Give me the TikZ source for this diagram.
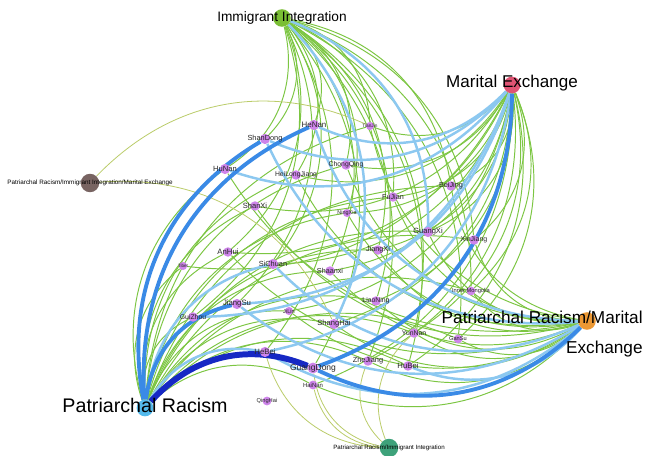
\documentclass[tikz,border=0pt]{standalone}
\usepackage{fontspec}
\setmainfont{Liberation Sans}
\usetikzlibrary{backgrounds}
\definecolor{ii-green}{RGB}{122,190,52}
\definecolor{me-pink}{RGB}{224,84,116}
\definecolor{prme-orange}{RGB}{236,152,52}
\definecolor{pr-blue}{RGB}{84,186,236}
\definecolor{prii-teal}{RGB}{62,162,122}
\definecolor{all-brown}{RGB}{120,100,98}
\definecolor{prov-violet}{RGB}{206,132,234}
\definecolor{edge-green}{RGB}{124,198,66}
\definecolor{edge-light}{RGB}{140,200,240}
\definecolor{edge-mid}{RGB}{58,138,230}
\definecolor{edge-navy}{RGB}{22,40,196}
\definecolor{edge-olive}{RGB}{186,204,104}

\begin{document}
\begin{tikzpicture}[
    x=0.02cm, y=-0.02cm,
    hub/.style={circle, inner sep=0pt, minimum size=10pt},
    prov/.style={circle, fill=prov-violet, inner sep=0pt},
    plab/.style={inner sep=0pt, text=black!85},
    hublab/.style={inner sep=0pt, text=black},
    gedge/.style={draw=edge-green, line width=0.55pt},
    oedge/.style={draw=edge-olive, line width=0.45pt},
    ledge/.style={draw=edge-light, line width=1.4pt},
    medge/.style={draw=edge-mid, line width=2.2pt},
    nedge/.style={draw=edge-navy, line width=3.4pt},
    curve/.style={bend left=35}
]
\useasboundingbox (0,0) rectangle (647,456);

\node[hub, fill=ii-green] (ii) at (282,18) {};
\node[hub, fill=me-pink, minimum size=9.5pt] (me) at (512,85) {};
\node[hub, fill=prme-orange] (prme) at (587,321) {};
\node[hub, fill=pr-blue, minimum size=9.5pt] (pr) at (145,408) {};
\node[hub, fill=prii-teal, minimum size=10.5pt] (prii) at (389,448) {};
\node[hub, fill=all-brown, minimum size=10.5pt] (prmeii) at (90,183) {};

\foreach \id/\px/\py/\txt/\fs/\d in {
    henan/314/125/HeNan/4.5/5.8, tianjin/370/126/TianJin/2.7/4.6,
    shandong/265/139/ShanDong/4.2/5.8, hunan/225/169/HuNan/4.3/5.8,
    chongqing/346/165/ChongQing/3.9/5.4, heilongjiang/296/175/HeiLongJiang/3.9/5.4,
    fujian/393/197/FuJian/4.1/5.4, shanxi/255/206/ShanXi/4.3/5.4,
    ningxia/347/213/NingXia/3.1/4.6, beijing/451/186/BeiJing/4.15/5.4,
    guangxi/428/232/GuangXi/4.3/5.8, xinjiang/474/240/XinJiang/3.95/5.4,
    jiangxi/378/250/JiangXi/4.15/5.4, anhui/228/252/AnHui/4.4/5.4,
    sichuan/273/264/SiChuan/4.2/5.8, tibet/183/266/Tibet/2.6/4.6,
    shaanxi/330/271/Shaanxi/4.1/5.4, liaoning/376/301/LiaoNing/3.9/5.4,
    innermongolia/471/291/Inner Mongolia/3.25/5, jiangsu/237/304/JiangSu/4.4/5.8,
    jilin/289/311/JiLin/3.2/4.6, guizhou/193/317/GuiZhou/3.9/5.4,
    shanghai/334/324/ShangHai/4.3/5.8, yunnan/414/333/YunNan/3.9/5.4,
    gansu/458/339/GanSu/3.2/5, hebei/265/352/HeBei/4.4/5.8,
    zhejiang/368/361/ZheJiang/4.2/5.4, hubei/408/366/HuBei/4.4/5.4,
    guangdong/313/368/GuangDong/4.85/6.2, hainan/313/385/HaiNan/3.4/5,
    qinghai/267/401/QingHai/3.25/5} {
  \node[prov, minimum size=\d pt] (\id) at (\px,\py) {};
  \node[plab, font=\fontsize{\fs}{\fs}\selectfont] (\id-l) at (\id) {\txt};
}

\node[hublab, font=\fontsize{7.8}{9}\selectfont] (ii-l) at (282,18) {Immigrant Integration};
\node[hublab, font=\fontsize{9.7}{11}\selectfont] (me-l) at (512,83) {Marital Exchange};
\node[hublab, font=\fontsize{9.8}{17.5}\selectfont, align=right, anchor=east] (prme-l) at (643,334) {Patriarchal Racism/Marital\\Exchange};
\node[hublab, font=\fontsize{11.2}{13}\selectfont] (pr-l) at (145,405) {Patriarchal Racism};
\node[hublab, font=\fontsize{3.5}{4}\selectfont] (prii-l) at (389,448) {Patriarchal Racism/Immigrant Integration};
\node[hublab, font=\fontsize{3.6}{4}\selectfont] (prmeii-l) at (90,183) {Patriarchal Racism/Immigrant Integration/Marital Exchange};

\begin{scope}[on background layer]
\fill[white] (0,0) rectangle (647,456);
\foreach \t in {henan, tianjin, shandong, chongqing, heilongjiang, fujian, ningxia, beijing,
    xinjiang, jiangxi, shaanxi, liaoning, innermongolia, yunnan, gansu, zhejiang, hubei,
    hunan, sichuan, anhui, jiangsu, guizhou, hebei, guangdong}
  \draw[gedge] (ii) to[curve] (\t);
\foreach \t in {tianjin, chongqing, heilongjiang, fujian, ningxia, beijing, guangxi, xinjiang,
    jiangxi, shaanxi, liaoning, innermongolia, shanghai, yunnan, gansu, zhejiang, hubei,
    anhui, sichuan, shanxi, jilin, hainan, tibet}
  \draw[gedge] (me) to[curve] (\t);
\foreach \t in {tianjin, chongqing, heilongjiang, fujian, beijing, guangxi, xinjiang, jiangxi,
    shaanxi, liaoning, innermongolia, shanghai, yunnan, gansu, zhejiang, anhui, shanxi,
    jilin, hainan, ningxia, hunan}
  \draw[gedge] (prme) to[curve] (\t);
\foreach \t in {hunan, shanxi, anhui, tibet, guizhou, sichuan, jilin, shaanxi, shanghai,
    liaoning, zhejiang, hubei, yunnan, gansu, jiangxi, guangxi, fujian, chongqing,
    heilongjiang, beijing, xinjiang, innermongolia, hainan, ningxia, tianjin}
  \draw[gedge] (pr) to[curve] (\t);
\foreach \t in {hebei, guangdong, hainan, zhejiang, yunnan}
  \draw[oedge] (prii) to[curve] (\t);
\foreach \t in {tianjin, shanghai}
  \draw[oedge] (prmeii) to[curve] (\t);
\foreach \t in {guangxi, shanghai}
  \draw[ledge] (ii) to[curve] (\t);
\foreach \t in {shandong, henan, hunan, jiangsu, hebei, guizhou}
  \draw[ledge] (me) to[curve] (\t);
\foreach \t in {henan, shandong, sichuan, hubei, hebei, jiangsu}
  \draw[ledge] (prme) to[curve] (\t);
\foreach \t in {hebei, sichuan}
  \draw[ledge] (pr) to[curve] (\t);
\foreach \t in {henan, shandong, jiangsu}
  \draw[medge] (pr) to[curve] (\t);
\draw[medge] (me) to[curve] (guangdong);
\draw[medge] (prme) to[curve] (guangdong);
\draw[nedge] (pr) to[curve] (guangdong);
\end{scope}
\end{tikzpicture}
\end{document}
